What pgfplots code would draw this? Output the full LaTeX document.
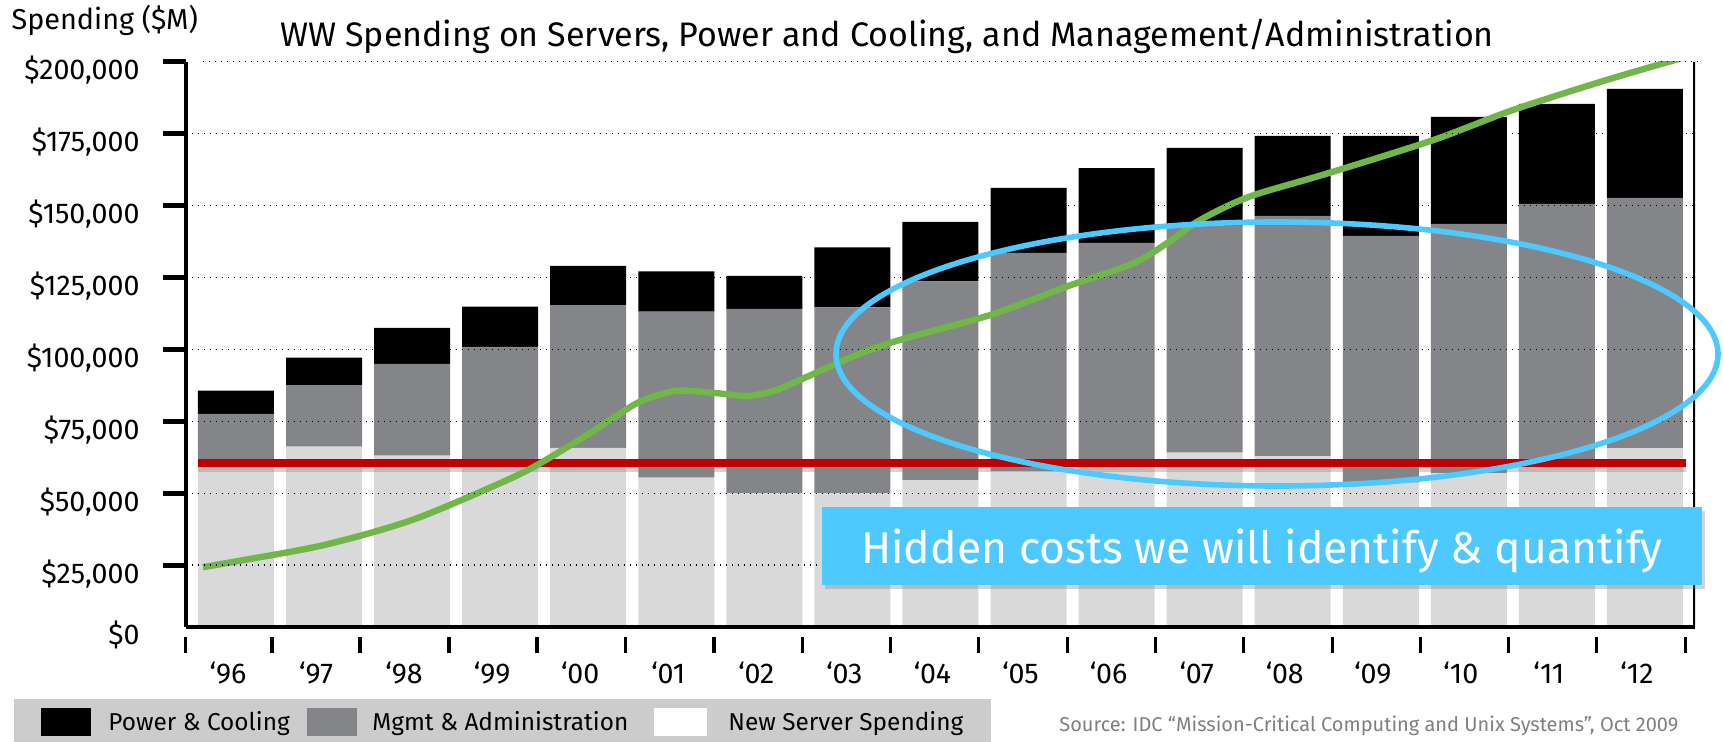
\documentclass[border=0pt]{standalone}
\usepackage{fontspec}
\setmainfont{Fira Sans}
\usepackage{pgfplots}
\pgfplotsset{compat=1.18}
\usepackage{pgfplotstable}
\usetikzlibrary{shadows}

\definecolor{newsrv}{RGB}{217,217,217}
\definecolor{mgmt}{RGB}{132,133,137}
\definecolor{legbg}{RGB}{204,204,204}
\definecolor{trend}{RGB}{112,182,72}
\definecolor{flat}{RGB}{192,0,0}
\definecolor{callout}{RGB}{78,201,255}
\definecolor{srcgray}{RGB}{128,128,128}

% spending by year, $M
\pgfplotstableread{
x  new   mgmt  power
0  61500 16040 8100
1  66170 21450 9490
2  63040 31880 12520
3  61000 39830 14010
4  65800 49600 13600
5  55390 57710 13990
6  49960 64090 11540
7  49960 64680 20860
8  54590 69090 20620
9  57720 75870 22530
10 61000 76030 25970
11 64080 78920 27030
12 62930 83450 27820
13 53650 85780 34770
14 56920 86680 37200
15 61000 89550 34780
16 65720 86920 37900
}\spend

\pgfplotsset{
  frame/.style={
    at={(92.85pt,-313.5pt)}, anchor=south west,
    scale only axis, width=754.65pt, height=282.65pt,
    xmin=-0.571, xmax=16.568, ymin=3500, ymax=200000,
    scaled y ticks=false, scaled x ticks=false,
  },
}

\begin{document}
\begin{tikzpicture}
\useasboundingbox (0,0) rectangle (861.5pt,-371pt);

% bars, axes, ticks
\begin{axis}[
  frame,
  ybar stacked, bar width=38pt,
  axis x line*=bottom, axis y line*=left,
  axis line style={-, line width=2.2pt, black},
  axis on top,
  tick align=outside,
  major tick length=11.4pt,
  ytick={25000,50000,...,200000},
  yticklabels={{\$25,000},{\$50,000},{\$75,000},{\$100,000},{\$125,000},{\$150,000},{\$175,000},{\$200,000}},
  ytick style={line width=2.4pt, black},
  xtick={0,...,16},
  xticklabels={‘96,‘97,‘98,‘99,‘00,‘01,‘02,‘03,‘04,‘05,‘06,‘07,‘08,‘09,‘10,‘11,‘12},
  major x tick style={draw=none},
  minor xtick={-0.57,0.41,1.41,2.42,3.42,4.42,5.43,6.43,7.43,8.43,9.44,10.44,11.44,12.45,13.45,14.45,15.45,16.46},
  minor tick length=8pt,
  minor x tick style={line width=1.7pt, black, yshift=-4.8pt},
  tick label style={font=\fontsize{14.3}{17}\selectfont},
  yticklabel style={anchor=east, inner sep=0pt, xshift=-11.5pt, yshift=-4.3pt},
  xticklabel style={anchor=base, inner sep=0pt, xshift=-4pt, yshift=-16.8pt},
]
\addplot[fill=newsrv, draw=none] table[x=x, y=new] {\spend};
\addplot[fill=mgmt, draw=none] table[x=x, y=mgmt] {\spend};
\addplot[fill=black, draw=none] table[x=x, y=power] {\spend};
\draw[line width=1.7pt] (rel axis cs:1,0) -- (rel axis cs:1,1);
\end{axis}

% trend lines and dotted grid on top
\begin{axis}[
  frame,
  axis line style={draw=none},
  xtick=\empty,
  ytick={25000,50000,...,200000},
  yticklabels={},
  major tick length=0pt,
  ymajorgrids,
  major grid style={black, line width=0.7pt, dash pattern=on 0.7pt off 2.3pt, shorten <=8.5pt, shorten >=-1.5pt},
  axis on top,
]
\addplot[gray, opacity=0.35, line width=3pt, yshift=-3pt] coordinates {(-0.43,60600) (16.47,60600)};
\addplot[flat, line width=4pt] coordinates {(-0.43,60600) (16.47,60600)};
\addplot[trend, line width=3.2pt, smooth, tension=0.5] coordinates {
  (-0.375,24300) (0,26300) (1,32000) (2,40700) (3,53500) (3.43,60000)
  (4,70500) (4.3,76500) (4.6,82000) (5,85600) (5.45,84800) (5.8,83800)
  (6.1,85500) (6.45,90000) (7.0,97500) (7.54,103300) (8.57,112000)
  (9.43,121800) (10.19,129900) (10.6,137500) (10.95,145000) (11.51,153100)
  (12.41,161300) (13.6,172800) (14.5,183200) (15.57,193700) (16.48,201800)
};
\end{axis}

% $0 label (the axis floor sits just above zero)
\node[anchor=east, inner sep=0pt, font=\fontsize{14.3}{17}\selectfont] at (70pt,-317.5pt) {\$0};

% title and axis caption
\node[anchor=base, font=\fontsize{17}{20}\selectfont] at (443.5pt,-23.35pt)
  {WW Spending on Servers, Power and Cooling, and Management/Administration};
\node[anchor=base west, inner sep=0pt, font=\fontsize{14.4}{17}\selectfont] at (5.6pt,-14.65pt) {Spending (\$M)};

% annotation
\draw[callout, line width=2.8pt] (638.5pt,-177pt) ellipse [x radius=220.5pt, y radius=66pt];
\fill[callout, drop shadow={shadow xshift=1.5pt, shadow yshift=-2pt, opacity=0.35}] (411pt,-253.5pt) rectangle (851pt,-292.5pt);
\node[anchor=base, white, font=\fontsize{22.2}{26}\selectfont] at (631pt,-281.7pt) {Hidden costs we will identify \& quantify};

% legend band
\fill[legbg] (7pt,-349.5pt) rectangle (495.5pt,-371pt);
\fill[black] (20.5pt,-353.85pt) rectangle (45.4pt,-368pt);
\fill[mgmt] (153.4pt,-353.85pt) rectangle (178.5pt,-368pt);
\fill[white] (327pt,-353.85pt) rectangle (353.5pt,-368pt);
\begin{scope}[every node/.style={anchor=base west, inner sep=0pt, font=\fontsize{12.2}{15}\selectfont}]
\node at (54pt,-365pt) {Power \& Cooling};
\node at (186pt,-365pt) {Mgmt \& Administration};
\node at (364pt,-365pt) {New Server Spending};
\end{scope}

% source
\node[anchor=base west, inner sep=0pt, srcgray, font=\fontsize{10}{12}\selectfont] at (529.5pt,-365.8pt)
  {Source: IDC “Mission-Critical Computing and Unix Systems”, Oct 2009};
\end{tikzpicture}
\end{document}
